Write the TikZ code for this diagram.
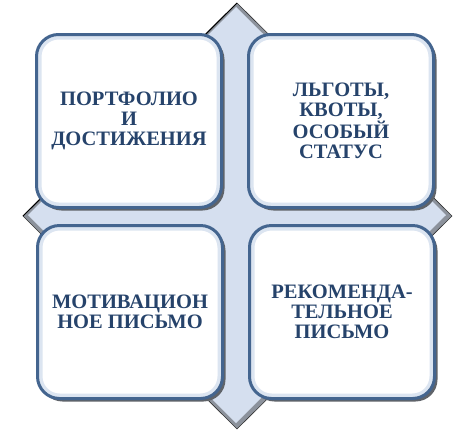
\documentclass[tikz,border=0pt]{standalone}
\usepackage{fontspec}
\setmainfont{Liberation Serif}
\usepackage{tikz}

\definecolor{cardedge}{HTML}{44658F}
\definecolor{cardglow}{HTML}{DCE5F1}
\definecolor{cardshade}{HTML}{5F6369}
\definecolor{crossfill}{HTML}{D5DFEF}
\definecolor{crossbevel}{HTML}{8C929C}
\definecolor{titleink}{HTML}{26436B}

\tikzset{
  card/.style={draw=cardedge, line width=3pt, fill=white, rounded corners=22pt,
    minimum width=185pt, minimum height=173pt, inner sep=0pt, align=center,
    text=titleink, font=\bfseries\fontsize{20.5}{20}\selectfont,
    preaction={fill=cardshade, transform canvas={shift={(3pt,-3pt)}}},
    path picture={\draw[cardglow, line width=10pt, rounded corners=22pt]
      (path picture bounding box.north west) rectangle (path picture bounding box.south east);}}
}

\begin{document}
\begin{tikzpicture}[x=1pt,y=-1pt]
  \useasboundingbox (0,0) rectangle (474,432);
  % cross behind the cards
  \fill[crossbevel] (237,3) -- (452,216) -- (237,429) -- (23,216) -- cycle;
  \fill[crossfill] (236,7) -- (446,215) -- (236,423) -- (28,215) -- cycle;
  \draw[black!80, line width=0.6pt] (237,3) -- (452,216) -- (237,429) -- (23,216) -- cycle;
  \draw[black, line width=1pt] (23,216) -- (237,3);

  \node[card] (portfolio) at (129,121) {ПОРТФОЛИО\\И\\ДОСТИЖЕНИЯ};
  \node[card] (benefits) at (341,121) {ЛЬГОТЫ,\\КВОТЫ,\\ОСОБЫЙ\\СТАТУС};
  \node[card] (motivation) at (130,312) {МОТИВАЦИОН\\НОЕ ПИСЬМО};
  \node[card] (recommendation) at (342,312) {РЕКОМЕНДА-\\ТЕЛЬНОЕ\\ПИСЬМО};
\end{tikzpicture}
\end{document}
